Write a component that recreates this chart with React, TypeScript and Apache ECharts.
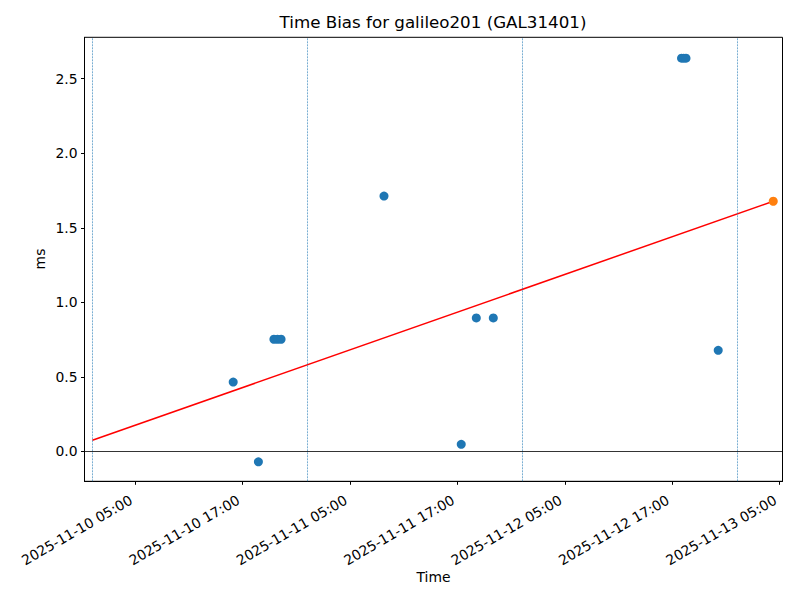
import React, { useEffect, useRef } from "react";
import * as echarts from "echarts";

// ---- data (times in UTC) ----
const pointTimes = [
  "2025-11-10 15:56",
  "2025-11-10 18:45",
  "2025-11-10 20:29",
  "2025-11-10 20:53",
  "2025-11-10 21:17",
  "2025-11-11 08:47",
  "2025-11-11 17:25",
  "2025-11-11 19:06",
  "2025-11-11 21:00",
  "2025-11-12 18:02",
  "2025-11-12 18:17",
  "2025-11-12 18:32",
  "2025-11-12 22:08",
];
const pointValues = [0.465, -0.07, 0.752, 0.752, 0.752, 1.713, 0.047, 0.895, 0.895, 2.638, 2.638, 2.638, 0.678];

const predictedTime = "2025-11-13 04:17";
const predictedValue = 1.678;

const fitTimes = ["2025-11-10 00:12", "2025-11-13 04:17"];
const fitValues = [0.074, 1.678];

const dayLines = ["2025-11-10 00:14", "2025-11-11 00:14", "2025-11-12 00:14", "2025-11-13 00:14"];

const xTickLabels = [
  "2025-11-10 05:00",
  "2025-11-10 17:00",
  "2025-11-11 05:00",
  "2025-11-11 17:00",
  "2025-11-12 05:00",
  "2025-11-12 17:00",
  "2025-11-13 05:00",
];
const yTicks = [0, 0.5, 1.0, 1.5, 2.0, 2.5];

const xRange = ["2025-11-09 23:19", "2025-11-13 05:19"];
const yRange = [-0.201, 2.778];

const toMs = (s: string) => Date.parse(s.replace(" ", "T") + ":00Z");
const pad = (n: number) => String(n).padStart(2, "0");
const fmt = (v: number) => {
  const d = new Date(v);
  return `${d.getUTCFullYear()}-${pad(d.getUTCMonth() + 1)}-${pad(d.getUTCDate())} ${pad(d.getUTCHours())}:${pad(d.getUTCMinutes())}`;
};

const FONT = "DejaVu Sans";

export default function App() {
  const ref = useRef<HTMLDivElement>(null);
  useEffect(() => {
    if (!ref.current) return;
    const chart = echarts.init(ref.current, null, { renderer: "svg" });
    const xTicks = xTickLabels.map(toMs);
    chart.setOption({
      animation: false,
      backgroundColor: "#ffffff",
      grid: {
        left: 84.5,
        right: 17.5,
        top: 37.3,
        bottom: 118.7,
        containLabel: false,
        outerBoundsMode: "none",
        show: true,
        borderColor: "#000",
        borderWidth: 1,
        backgroundColor: "transparent",
      },
      xAxis: {
        type: "value",
        min: toMs(xRange[0]),
        max: toMs(xRange[1]),
        axisLine: { show: true, onZero: false, lineStyle: { color: "#000", width: 1 } },
        axisTick: { show: true, length: 3.5, lineStyle: { color: "#000" }, customValues: xTicks },
        axisLabel: {
          customValues: xTicks,
          rotate: 30,
          margin: 15,
          padding: [0, 5, 0, 0],
          color: "#000",
          fontFamily: FONT,
          fontSize: 13.9,
          formatter: (v: number) => fmt(v),
        },
        splitLine: { show: false },
      },
      yAxis: {
        type: "value",
        min: yRange[0],
        max: yRange[1],
        axisLine: { show: true, onZero: false, lineStyle: { color: "#000", width: 1 } },
        axisTick: { show: true, length: 3.5, lineStyle: { color: "#000" }, customValues: yTicks },
        axisLabel: {
          customValues: yTicks,
          margin: 7,
          color: "#000",
          fontFamily: FONT,
          fontSize: 13.9,
          formatter: (v: number) => v.toFixed(1),
        },
        splitLine: { show: false },
      },
      graphic: [
        {
          type: "text",
          x: 433,
          y: 22,
          style: {
            text: "Time Bias for galileo201 (GAL31401)",
            fontFamily: FONT,
            fontSize: 16.7,
            fill: "#000",
            align: "center",
            verticalAlign: "middle",
          },
        },
        {
          type: "text",
          x: 433.5,
          y: 577,
          style: { text: "Time", fontFamily: FONT, fontSize: 13.9, fill: "#000", align: "center", verticalAlign: "middle" },
        },
        {
          type: "text",
          x: 40,
          y: 259,
          rotation: Math.PI / 2,
          style: { text: "ms", fontFamily: FONT, fontSize: 13.9, fill: "#000", align: "center", verticalAlign: "middle" },
        },
      ],
      series: [
        {
          type: "line",
          name: "day",
          data: [],
          silent: true,
          markLine: {
            silent: true,
            symbol: "none",
            label: { show: false },
            lineStyle: { color: "#1f77b4", type: [2, 1], width: 0.6 },
            data: dayLines.map((t) => ({ xAxis: toMs(t) })),
          },
        },
        {
          type: "line",
          name: "zero",
          data: [],
          silent: true,
          markLine: {
            silent: true,
            symbol: "none",
            label: { show: false },
            lineStyle: { color: "#000", type: "solid", width: 0.8 },
            data: [{ yAxis: 0 }],
          },
        },
        {
          type: "scatter",
          name: "bias",
          symbol: "circle",
          symbolSize: 9,
          itemStyle: { color: "#1f77b4", opacity: 1 },
          data: pointTimes.map((t, i) => [toMs(t), pointValues[i]]),
          z: 3,
        },
        {
          type: "line",
          name: "fit",
          showSymbol: false,
          symbol: "none",
          lineStyle: { color: "#ff0000", width: 1.5 },
          data: fitTimes.map((t, i) => [toMs(t), fitValues[i]]),
          z: 4,
        },
        {
          type: "scatter",
          name: "prediction",
          symbol: "circle",
          symbolSize: 9,
          itemStyle: { color: "#ff7f0e", opacity: 1 },
          data: [[toMs(predictedTime), predictedValue]],
          z: 5,
        },
      ],
    });
    return () => chart.dispose();
  }, []);
  return (
    <div
      ref={ref}
      style={{ position: "fixed", left: 0, top: 0, width: 800, height: 600 }}
    />
  );
}
